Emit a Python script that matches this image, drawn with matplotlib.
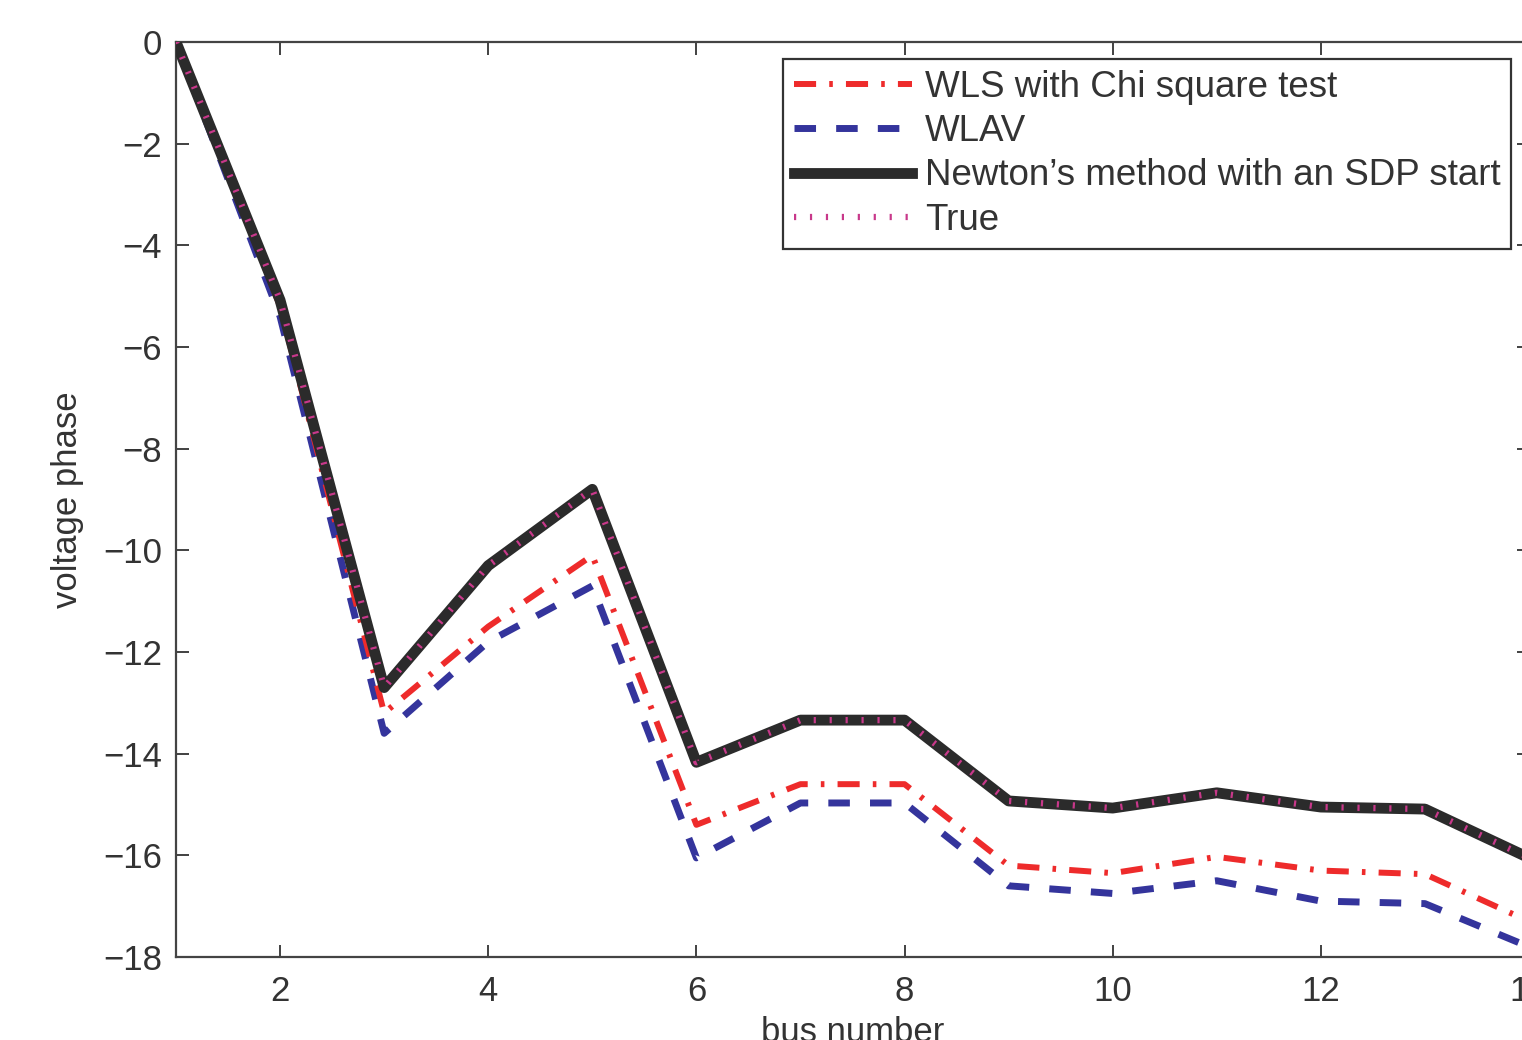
import numpy as np
import matplotlib
matplotlib.use('Agg')
import matplotlib.pyplot as plt

# bus index and voltage phase per method
bus = [1, 2, 3, 4, 5, 6, 7, 8, 9, 10, 11, 12, 13, 14]
wls_chi = [0, -5.2, -13.2, -11.5, -10.1, -15.4, -14.6, -14.6, -16.2, -16.35, -16.03, -16.3, -16.37, -17.3]
wlav = [0, -5.4, -13.6, -11.8, -10.7, -16.05, -14.97, -14.97, -16.6, -16.75, -16.5, -16.9, -16.95, -17.8]
newton_sdp = [0, -5.08, -12.7, -10.3, -8.8, -14.17, -13.34, -13.34, -14.93, -15.07, -14.77, -15.05, -15.09, -16.05]
true_phase = [0, -5.08, -12.7, -10.3, -8.8, -14.17, -13.34, -13.34, -14.93, -15.07, -14.77, -15.05, -15.09, -16.05]

x_ticks = [2, 4, 6, 8, 10, 12, 14]
y_ticks = [0, -2, -4, -6, -8, -10, -12, -14, -16, -18]

plt.rcParams['font.family'] = ['Liberation Sans', 'DejaVu Sans']
plt.rcParams['font.size'] = 25

fig = plt.figure(figsize=(15.22, 10.40), dpi=100)
W, H = 1522.0, 1040.0
ax = fig.add_axes([176 / W, 1 - 957 / H, (1529 - 176) / W, (957 - 42) / H])

ax.plot(bus, wls_chi, color='#ee2b2b', linewidth=4.3, dashes=(3.7, 2.2, 0.6, 2.2),
        label='WLS with Chi square test', zorder=3)
ax.plot(bus, wlav, color='#34349c', linewidth=5, dashes=(3.1, 2.9),
        label='WLAV', zorder=2)
ax.plot(bus, newton_sdp, color='#2b2b2b', linewidth=7.8,
        label='Newton\u2019s method with an SDP start', zorder=4)
ax.plot(bus, true_phase, color='#c8388a', linewidth=4.5, dashes=(0.35, 2.2),
        label='True', zorder=5)

ax.set_xlim(1, 14)
ax.set_ylim(-18, 0)
ax.set_xticks(x_ticks)
ax.set_yticks(y_ticks)
ax.tick_params(direction='in', length=9, width=1.3, top=True, right=True,
               colors='#333333', labelcolor='#333333', pad=10)
ax.tick_params(axis='x', pad=13)
for s in ax.spines.values():
    s.set_color('#444444')
    s.set_linewidth(1.6)

ax.set_ylabel('voltage phase', color='#333333', fontsize=25, labelpad=14)
ax.set_xlabel('bus number', color='#333333', fontsize=25, labelpad=6)

leg = ax.legend(loc='upper left', bbox_to_anchor=(783 / W, 1 - 59 / H),
                bbox_transform=fig.transFigure, borderaxespad=0,
                fontsize=26.5, handlelength=3.2, handletextpad=0.35,
                labelspacing=0.25, borderpad=0.3, fancybox=False,
                framealpha=1, edgecolor='#333333')
leg.get_frame().set_linewidth(1.6)
for t in leg.get_texts():
    t.set_color('#333333')

fig.savefig('out.png', dpi=100)
